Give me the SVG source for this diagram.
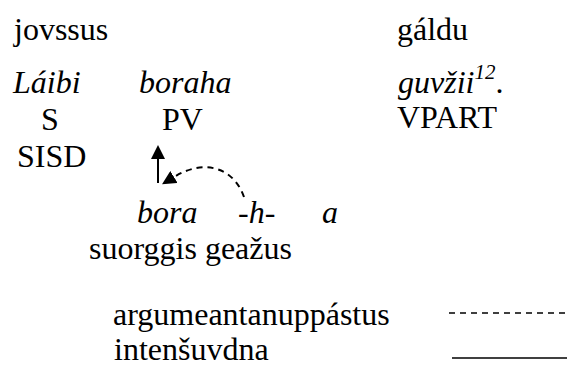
<svg xmlns="http://www.w3.org/2000/svg" width="567" height="367" viewBox="0 0 567 367">
<style>
text{font-family:"Liberation Serif","Tinos","Times New Roman","Noto Serif","DejaVu Serif",serif;font-size:32px;fill:#000}
.it{font-style:italic}
.sup{font-size:21px;font-style:italic}
.conn{fill:none;stroke:#000;stroke-width:2}
.dash{stroke-dasharray:6 5}
</style>
<defs>
<marker id="ah" viewBox="0 0 10 10" refX="0" refY="5" markerWidth="14" markerHeight="14" markerUnits="userSpaceOnUse" orient="auto">
<path d="M0,0 L10,5 L0,10 z" fill="#000"/>
</marker>
</defs>
<rect width="567" height="367" fill="#fff"/>
<g id="row-header">
<text x="14" y="40">jovssus</text>
<text x="397" y="40">gáldu</text>
</g>
<g id="node-laibi">
<text class="it" x="13" y="93">Láibi</text>
<text x="41" y="130">S</text>
<text x="17" y="167">SISD</text>
</g>
<g id="node-boraha">
<text class="it" x="139" y="93">boraha</text>
<text x="162" y="130">PV</text>
</g>
<g id="node-guvzii">
<text x="398" y="93"><tspan class="it">guvžii</tspan><tspan class="sup" dy="-14">12</tspan><tspan dy="14">.</tspan></text>
<text x="397" y="128">VPART</text>
</g>
<g id="node-morphemes">
<text class="it" x="137" y="223">bora</text>
<text class="it" x="238" y="223">-h-</text>
<text class="it" x="322" y="223">a</text>
<text x="89" y="259">suorggis geažus</text>
</g>
<g id="connectors">
<line class="conn" x1="158" y1="183" x2="158" y2="159" marker-end="url(#ah)"/>
<path class="conn dash" d="M244,197 C234,168 205,158 174,177" marker-end="url(#ah)"/>
</g>
<g id="legend">
<text x="113" y="325">argumeantanuppástus</text>
<text x="114" y="360">intenšuvdna</text>
<line x1="449" y1="313" x2="567" y2="313" stroke="#000" stroke-width="1.3" stroke-dasharray="6 5"/>
<line x1="452" y1="358" x2="567" y2="358" stroke="#000" stroke-width="1.5"/>
</g>
</svg>
